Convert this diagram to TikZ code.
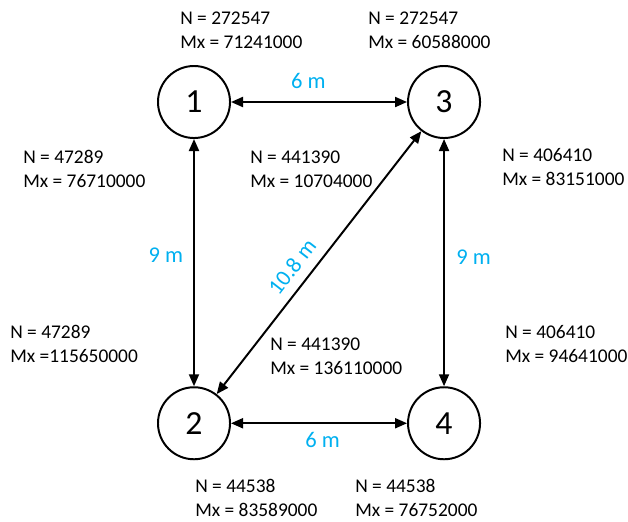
\documentclass[tikz,border=0pt]{standalone}
\usepackage{fontspec}
\setmainfont{Carlito}
\usepackage{xcolor}
\usetikzlibrary{arrows.meta,positioning}
\definecolor{distblue}{HTML}{00B0F0}

\begin{document}
\begin{tikzpicture}[
      x=0.025cm, y=0.025cm,
      stn/.style={draw, circle, line width=1.4pt, minimum size=1.8cm, inner sep=0pt, font=\fontsize{24}{28}\selectfont},
      info/.style={align=left, inner sep=0pt, anchor=west, font=\fontsize{13.8}{17}\selectfont},
      dist/.style={text=distblue, inner sep=0pt, font=\fontsize{16}{18}\selectfont},
      arr/.style={{Triangle[length=3mm,width=2.5mm]}-{Triangle[length=3mm,width=2.5mm]}, line width=1.4pt}
    ]
      \useasboundingbox (0,0) rectangle (628,-521);

      \node[stn] at (194,-102) (s1) {1};
      \node[stn, right=4.4cm of s1] (s3) {3};
      \node[stn, below=6.18cm of s1] (s2) {2};
      \node[stn, right=4.4cm of s2] (s4) {4};

      \draw[arr] (s1) -- node[dist, pos=0.44, yshift=15pt] {6 m} (s3);
      \draw[arr] (s2) -- node[dist, pos=0.52, yshift=-12pt] {6 m} (s4);
      \draw[arr] (s1) -- node[dist, pos=0.47, xshift=-20pt] {9 m} (s2);
      \draw[arr] (s3) -- node[dist, pos=0.48, xshift=21pt] {9 m} (s4);
      \draw[arr] (s2) -- node[dist, pos=0.44, sloped, above=7pt] {10.8 m} (s3);

      % forces and moments
      \node[info] (t1) at (180,-30) {N = 272547\\Mx = 71241000};
      \node[info] (t3) at (368,-30) {N = 272547\\Mx = 60588000};
      \node[info] (l12a) at (23,-169) {N = 47289\\Mx = 76710000};
      \node[info] (l12b) at (10,-344) {N = 47289\\Mx =115650000};
      \node[info] (d23a) at (250,-169) {N = 441390\\Mx = 10704000};
      \node[info] (d23b) at (270,-356) {N = 441390\\Mx = 136110000};
      \node[info] (r34a) at (502,-167) {N = 406410\\Mx = 83151000};
      \node[info] (r34b) at (505,-344) {N = 406410\\Mx = 94641000};
      \node[info] (b2) at (195,-498) {N = 44538\\Mx = 83589000};
      \node[info] (b4) at (355,-498) {N = 44538\\Mx = 76752000};
    \end{tikzpicture}
\end{document}
